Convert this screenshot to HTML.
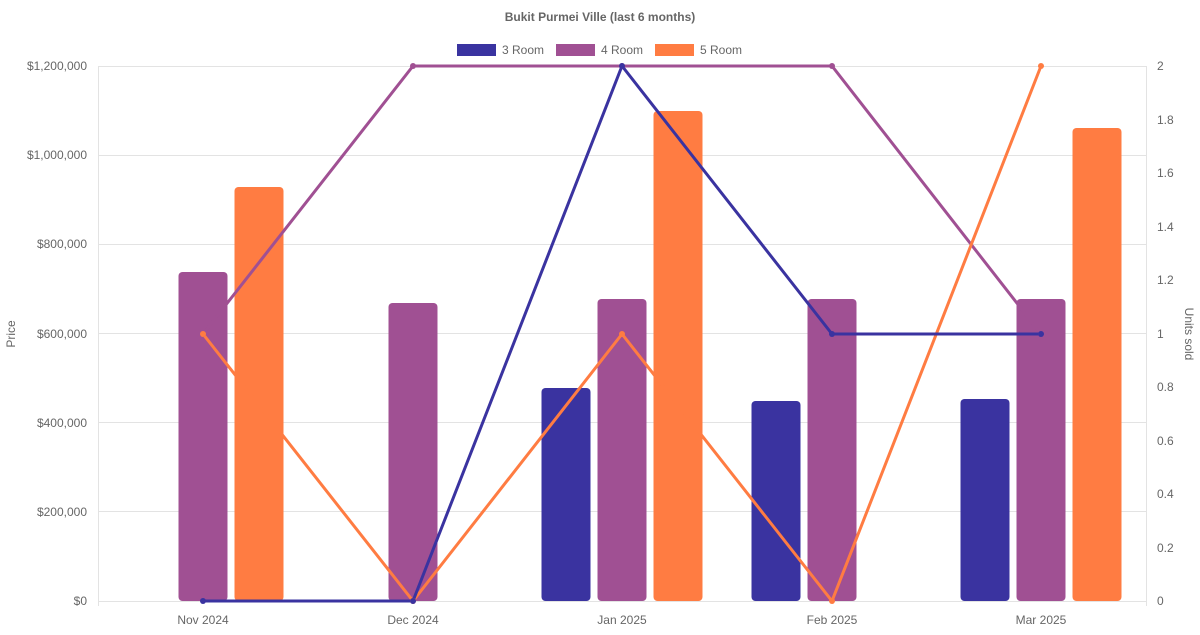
<!DOCTYPE html><html><head><style>body{margin:0;background:#fff}</style></head><body>
<svg width="1200" height="630" xmlns="http://www.w3.org/2000/svg" font-family="Liberation Sans, sans-serif">
<text x="600" y="21" text-anchor="middle" font-size="12" font-weight="bold" fill="#666">Bukit Purmei Ville (last 6 months)</text>
<rect x="457" y="44" width="39" height="12" fill="#3a33a0"/><text x="502" y="54" font-size="12" fill="#666">3 Room</text>
<rect x="556" y="44" width="39" height="12" fill="#a05093"/><text x="601" y="54" font-size="12" fill="#666">4 Room</text>
<rect x="655" y="44" width="39" height="12" fill="#ff7c42"/><text x="700" y="54" font-size="12" fill="#666">5 Room</text>
<g stroke="#e3e3e3" stroke-width="1">
<line x1="98" x2="1146" y1="66.5" y2="66.5"/><line x1="98" x2="1146" y1="155.5" y2="155.5"/><line x1="98" x2="1146" y1="244.5" y2="244.5"/><line x1="98" x2="1146" y1="333.5" y2="333.5"/><line x1="98" x2="1146" y1="422.5" y2="422.5"/><line x1="98" x2="1146" y1="511.5" y2="511.5"/><line x1="98" x2="1146" y1="601.5" y2="601.5"/>
<line x1="98.5" x2="98.5" y1="66" y2="606"/><line x1="1146.5" x2="1146.5" y1="66" y2="606"/>
</g>
<g font-size="12" fill="#666" text-anchor="end">
<text x="87" y="70">$1,200,000</text><text x="87" y="159">$1,000,000</text><text x="87" y="248">$800,000</text><text x="87" y="338">$600,000</text><text x="87" y="427">$400,000</text><text x="87" y="516">$200,000</text><text x="87" y="605">$0</text>
</g>
<g font-size="12" fill="#666" text-anchor="start">
<text x="1157" y="70">2</text><text x="1157" y="124">1.8</text><text x="1157" y="177">1.6</text><text x="1157" y="231">1.4</text><text x="1157" y="284">1.2</text><text x="1157" y="338">1</text><text x="1157" y="391">0.8</text><text x="1157" y="445">0.6</text><text x="1157" y="498">0.4</text><text x="1157" y="552">0.2</text><text x="1157" y="605">0</text>
</g>
<g font-size="12" fill="#666" text-anchor="middle">
<text x="203" y="624">Nov 2024</text><text x="413" y="624">Dec 2024</text><text x="622" y="624">Jan 2025</text><text x="832" y="624">Feb 2025</text><text x="1041" y="624">Mar 2025</text>
</g>
<text transform="translate(15,334) rotate(-90)" font-size="12" fill="#666" text-anchor="middle">Price</text>
<text transform="translate(1185,334) rotate(90)" font-size="12" fill="#666" text-anchor="middle">Units sold</text>
<g>
<rect x="178.5" y="272" width="49" height="329" rx="4" fill="#a05093"/>
<rect x="234.5" y="187" width="49" height="414" rx="4" fill="#ff7c42"/>
<rect x="388.5" y="303" width="49" height="298" rx="4" fill="#a05093"/>
<rect x="541.5" y="388" width="49" height="213" rx="4" fill="#3a33a0"/>
<rect x="597.5" y="299" width="49" height="302" rx="4" fill="#a05093"/>
<rect x="653.5" y="111" width="49" height="490" rx="4" fill="#ff7c42"/>
<rect x="751.5" y="401" width="49" height="200" rx="4" fill="#3a33a0"/>
<rect x="807.5" y="299" width="49" height="302" rx="4" fill="#a05093"/>
<rect x="960.5" y="399" width="49" height="202" rx="4" fill="#3a33a0"/>
<rect x="1016.5" y="299" width="49" height="302" rx="4" fill="#a05093"/>
<rect x="1072.5" y="128" width="49" height="473" rx="4" fill="#ff7c42"/>
</g>
<g fill="none" stroke-width="3">
<polyline stroke="#a05093" points="203,334 413,66 622,66 832,66 1041,334"/>
<polyline stroke="#ff7c42" points="203,334 413,601 622,334 832,601 1041,66"/>
<polyline stroke="#3a33a0" points="203,601 413,601 622,66 832,334 1041,334"/>
</g>
<g fill="#a05093"><circle cx="203" cy="334" r="3"/><circle cx="413" cy="66" r="3"/><circle cx="622" cy="66" r="3"/><circle cx="832" cy="66" r="3"/><circle cx="1041" cy="334" r="3"/></g>
<g fill="#ff7c42"><circle cx="203" cy="334" r="3"/><circle cx="413" cy="601" r="3"/><circle cx="622" cy="334" r="3"/><circle cx="832" cy="601" r="3"/><circle cx="1041" cy="66" r="3"/></g>
<g fill="#3a33a0"><circle cx="203" cy="601" r="3"/><circle cx="413" cy="601" r="3"/><circle cx="622" cy="66" r="3"/><circle cx="832" cy="334" r="3"/><circle cx="1041" cy="334" r="3"/></g>
</svg>
</body></html>
